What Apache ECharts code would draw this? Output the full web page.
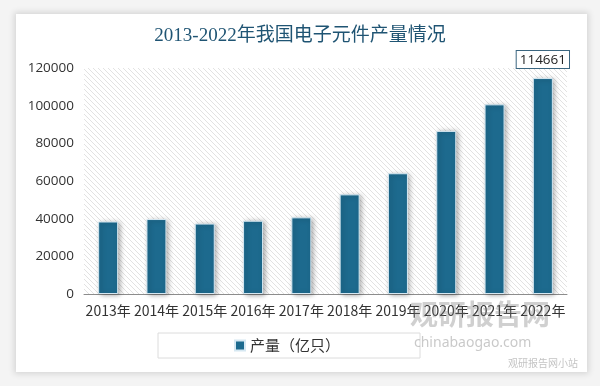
<!DOCTYPE html>
<html><head><meta charset="utf-8">
<script src="https://cdn.jsdelivr.net/npm/echarts@6/dist/echarts.min.js"></script>
<style>html,body{margin:0;padding:0;background:#f4f4f4;}#wrap{position:absolute;left:16px;top:14px;width:571px;height:358px;background:#fff;box-shadow:0 0 6px 2px rgba(0,0,0,0.12);}#c{position:absolute;left:0;top:0;width:600px;height:386px;}</style>
</head><body><div id="wrap"></div><div id="c"></div>
<script>
const categories = ['2013年','2014年','2015年','2016年','2017年','2018年','2019年','2020年','2021年','2022年'];
const production = [38500, 39800, 37400, 38900, 40700, 52900, 64100, 86600, 100700, 114661];
const yTicks = [0, 20000, 40000, 60000, 80000, 100000, 120000];
const titleText = '2013-2022年我国电子元件产量情况';
const seriesName = '产量（亿只）';

// hatch pattern
const pc = document.createElement('canvas');
pc.width = 5; pc.height = 5;
const g = pc.getContext('2d');
g.fillStyle = '#ffffff'; g.fillRect(0,0,5,5);
g.strokeStyle = '#e2e2e2'; g.lineWidth = 1;
g.beginPath();
g.moveTo(-1,-1); g.lineTo(6,6);
g.moveTo(-4,1); g.lineTo(4,9);
g.moveTo(1,-4); g.lineTo(9,4);
g.stroke();

const lastIdx = production.length - 1;
const barData = production.map((v, i) => i === lastIdx ? {
  value: v,
  label: {show: true, position: 'top', distance: 10,
    backgroundColor: '#fff', borderColor: '#3b6680', borderWidth: 1,
    padding: [2, 3, 1, 3], fontFamily: "'Open Sans','Noto Sans'", fontSize: 13.5, color: '#222'}
} : v);

const chart = echarts.init(document.getElementById('c'), null, {renderer:'canvas'});
chart.setOption({
  backgroundColor: 'transparent',
  animation: false,
  title: {
    text: titleText, left: 'center', top: 22,
    textStyle: {fontFamily: "'Liberation Serif','Noto Sans CJK SC'", fontSize: 19, fontWeight: 'normal', color: '#1f5473'}
  },
  grid: {left: 84, right: 33, top: 68, bottom: 92, show: true, borderWidth: 0,
    backgroundColor: {image: pc, repeat: 'repeat'}},
  legend: {
    data: [seriesName], left: 158, top: 333, width: 258, height: 28,
    padding: [5, 80, 5, 76],
    borderColor: '#dcdcdc', borderWidth: 1,
    itemWidth: 10, itemHeight: 10, icon: 'rect', itemGap: 6,
    textStyle: {fontFamily: "'Noto Sans CJK SC'", fontSize: 15, color: '#333'}
  },
  xAxis: {
    type: 'category', data: categories,
    axisLine: {lineStyle: {color: '#8c8c8c'}},
    axisTick: {show: false},
    axisLabel: {interval: 0, margin: 10, fontFamily: "'Noto Sans CJK SC'", fontSize: 14, color: '#333'}
  },
  yAxis: {
    type: 'value', min: yTicks[0], max: yTicks[yTicks.length-1], interval: 20000,
    axisLine: {show: false}, axisTick: {show: false}, splitLine: {show: false},
    axisLabel: {margin: 10, formatter: v => String(v), fontFamily: "'Open Sans','Noto Sans'", fontSize: 13.5, color: '#333'}
  },
  series: [{
    name: seriesName, type: 'bar', data: barData, barWidth: 20,
    itemStyle: {color: '#1d6a8e', borderColor: '#d6e8f2', borderWidth: 1,
      shadowColor: 'rgba(0,0,0,0.35)', shadowBlur: 5, shadowOffsetX: 2, shadowOffsetY: 1}
  }],
  graphic: [
    {type: 'text', left: 410, top: 300, z: 100, style: {text: '观研报告网', fontFamily: "'Noto Sans CJK SC'", fontWeight: 'bold', fontSize: 28, fill: 'rgba(120,120,120,0.35)'}},
    {type: 'text', left: 414, top: 336, z: 100, style: {text: 'chinabaogao.com', fontFamily: "'Noto Sans'", fontSize: 14, fill: 'rgba(120,120,120,0.4)'}},
    {type: 'text', left: 508, top: 358, z: 100, style: {text: '观研报告网小站', fontFamily: "'Noto Sans CJK SC'", fontSize: 10, fill: 'rgba(120,120,120,0.45)'}}
  ]
});
</script></body></html>
